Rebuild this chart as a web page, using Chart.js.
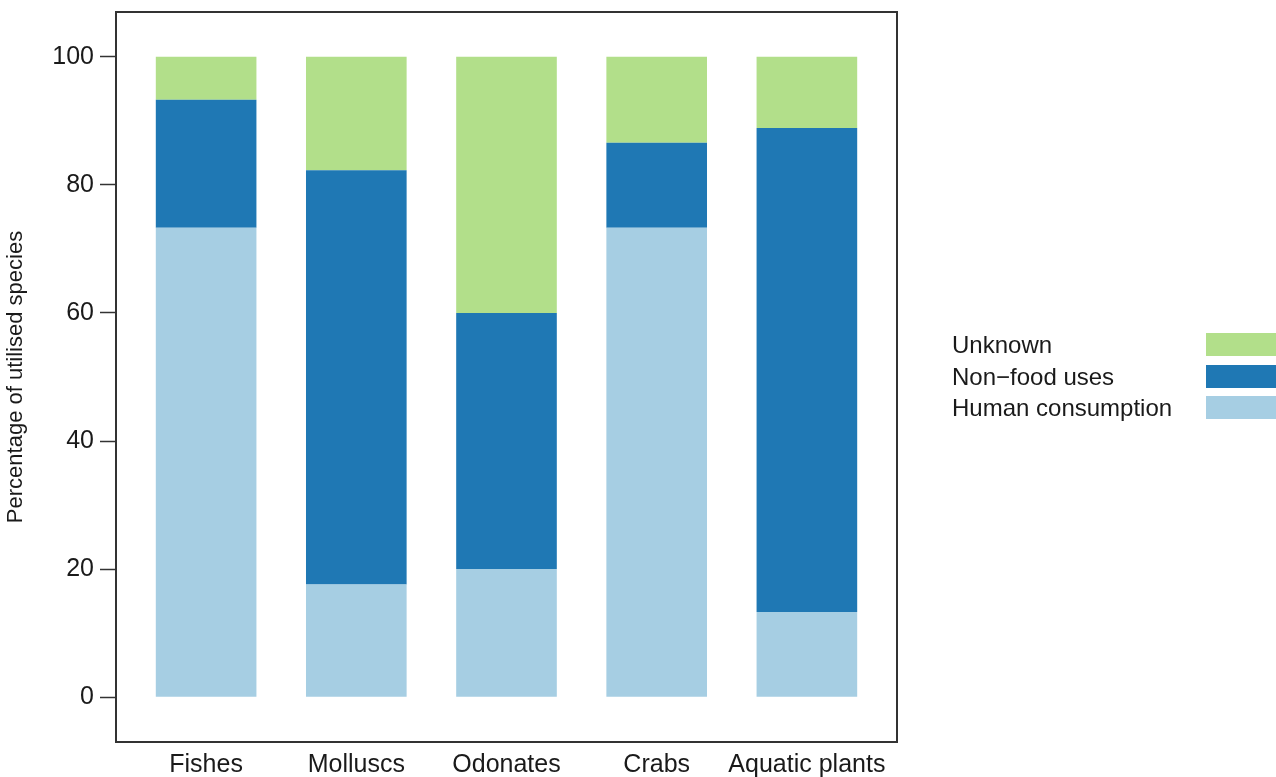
<!DOCTYPE html>
<html><head><meta charset="utf-8">
<script src="https://cdn.jsdelivr.net/npm/chart.js@4/dist/chart.umd.min.js"></script>
<style>
html,body{margin:0;padding:0;background:#fff;}
#wrap{position:relative;width:1276px;height:777px;overflow:hidden;background:#fff;}
canvas{position:absolute;left:0;top:0;}
#legend{position:absolute;left:952px;top:333px;font-family:"Liberation Sans",Arial,sans-serif;font-size:24px;color:#1a1a1a;}
.row{position:relative;height:31.5px;width:340px;}
.row span{position:absolute;left:0;top:12px;transform:translateY(-50%);line-height:1;white-space:nowrap;}
.row i{position:absolute;left:254px;top:0;width:90px;height:23px;}
</style>
</head><body>
<div id="wrap"><canvas id="c" width="1276" height="777"></canvas><div id="legend"></div></div>
<script>
const categories = ["Fishes", "Molluscs", "Odonates", "Crabs", "Aquatic plants"];
const seriesNames = ["Human consumption", "Non\u2212food uses", "Unknown"];
const humanConsumption = [73.3, 17.6, 20.0, 73.3, 13.3];
const nonFoodUses = [20.0, 64.7, 40.0, 13.3, 75.6];
const unknownUse = [6.7, 17.7, 40.0, 13.4, 11.1];
const yTicks = [0, 20, 40, 60, 80, 100];
const colors = ["#a6cee3", "#1f78b4", "#b2df8a"];

const seriesValues = [humanConsumption, nonFoodUses, unknownUse];
const datasets = seriesValues.map((vals, s) => ({
  label: seriesNames[s],
  data: vals.map((v, i) => ({x: i + 1, y: v})),
  backgroundColor: colors[s],
  borderWidth: 0,
  barPercentage: 0.67,
  categoryPercentage: 1.0
}));

const framePlugin = {
  id: 'frame',
  afterDraw(chart) {
    const {ctx, chartArea: a} = chart;
    ctx.save();
    ctx.strokeStyle = '#333';
    ctx.lineWidth = 2;
    ctx.strokeRect(a.left, a.top, a.right - a.left, a.bottom - a.top);
    ctx.restore();
  }
};

const font = '"Liberation Sans", Arial, sans-serif';
const chart = new Chart(document.getElementById('c'), {
  type: 'bar',
  data: {datasets},
  options: {
    responsive: false,
    animation: false,
    layout: {padding: {left: 0, right: 379, top: 12, bottom: 0}},
    plugins: {legend: {display: false}, tooltip: {enabled: false}},
    scales: {
      x: {
        type: 'linear', stacked: true, min: 0.4, max: 5.6, offset: false,
        afterBuildTicks: s => { s.ticks = categories.map((c, i) => ({value: i + 1})); },
        afterFit: s => { s.height = 35; s.paddingLeft = 0; s.paddingRight = 0; },
        grid: {display: false, drawTicks: false, offset: false},
        border: {display: false},
        ticks: {
          autoSkip: false, maxRotation: 0, padding: 8, color: '#1a1a1a',
          font: {family: font, size: 25},
          callback: v => categories[Math.round(v) - 1]
        }
      },
      y: {
        type: 'linear', stacked: true, min: -7, max: 107,
        afterBuildTicks: s => { s.ticks = yTicks.map(v => ({value: v})); },
        afterFit: s => { s.width = 116; s.paddingTop = 0; s.paddingBottom = 0; },
        grid: {drawOnChartArea: false, drawTicks: true, tickLength: 16, tickColor: '#333', tickWidth: 1.5},
        border: {display: false},
        ticks: {padding: 6, color: '#1a1a1a', font: {family: font, size: 25}},
        title: {display: true, text: 'Percentage of utilised species', color: '#1a1a1a',
          font: {family: font, size: 22}, padding: {top: 3, bottom: 0}}
      }
    }
  },
  plugins: [framePlugin]
});

const legend = document.getElementById('legend');
chart.data.datasets.slice().reverse().forEach(d => {
  const row = document.createElement('div');
  row.className = 'row';
  const sp = document.createElement('span');
  sp.textContent = d.label;
  const key = document.createElement('i');
  key.style.background = d.backgroundColor;
  row.appendChild(sp); row.appendChild(key);
  legend.appendChild(row);
});
</script>
</body></html>
